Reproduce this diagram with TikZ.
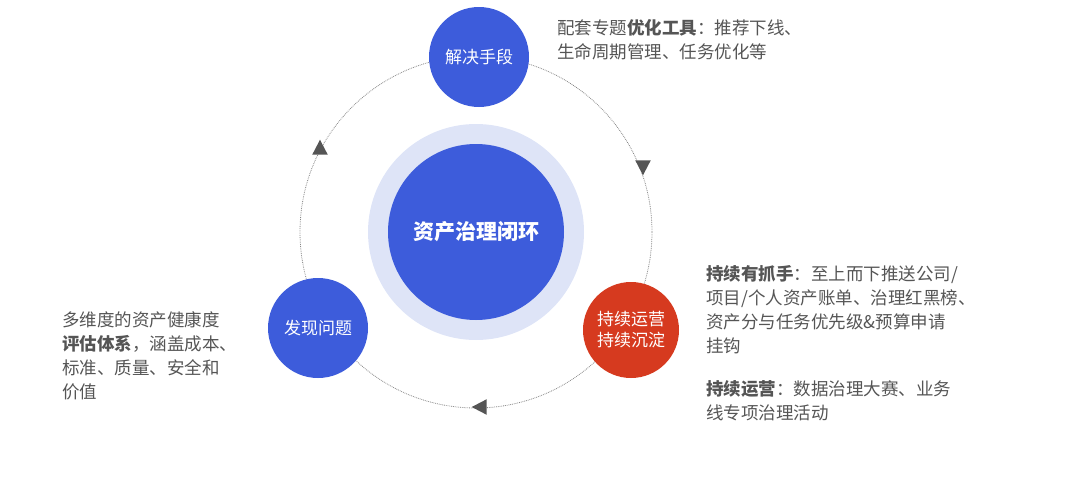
\documentclass[tikz,border=0pt]{standalone}
\usepackage{fontspec}
\setmainfont{Noto Sans CJK SC}
\usetikzlibrary{shapes.geometric,positioning}
\definecolor{stageblue}{HTML}{3D5CDB}
\definecolor{halo}{HTML}{DEE4F7}
\definecolor{stagered}{HTML}{D63A1F}
\definecolor{note}{HTML}{555555}
\tikzstyle{stage} = [circle, fill=stageblue, text=white, minimum size=100pt, inner sep=0pt, font=\fontsize{17}{21}\selectfont, align=center]
\tikzstyle{flowtip} = [isosceles triangle, fill=note, minimum height=15pt, minimum width=13pt, inner sep=0pt, isosceles triangle apex angle=55]
\tikzstyle{notes} = [anchor=north west, align=left, text=note, inner sep=0pt, font=\fontsize{17.5}{24}\selectfont]

\begin{document}
\begin{tikzpicture}[x=1pt,y=-1pt]
    \useasboundingbox (0,0) rectangle (1080,482);
    \coordinate (c) at (476,232);
    \draw[note!70, densely dotted, line width=0.8pt] (c) circle[radius=176];
    \node[circle, fill=halo, minimum size=216pt] (ring) at (c) {};
    \node[circle, fill=stageblue, text=white, minimum size=176pt, font=\fontsize{21}{24}\selectfont\bfseries] (core) at (c) {资产治理闭环};
    \node[stage] (solve) at (479,57) {解决手段};
    \node[stage] (find) at (318,328) {发现问题};
    \node[stage, fill=stagered, minimum size=96pt] (keep) at (631,330) {持续运营\\持续沉淀};
    \node[flowtip, shape border rotate=-68] (t1) at (643,165) {};
    \node[flowtip, shape border rotate=180] (t2) at (482,407) {};
    \node[flowtip, shape border rotate=62] (t3) at (320,150) {};
    \node[notes] (ntool) at (557,19) {配套专题\textbf{优化工具}：推荐下线、\\生命周期管理、任务优化等};
    \node[notes] (nhold) at (706,265) {\textbf{持续有抓手}：至上而下推送公司/\\项目/个人资产账单、治理红黑榜、\\资产分与任务优先级\&预算申请\\挂钩};
    \node[notes] (nrun) at (706,380) {\textbf{持续运营}：数据治理大赛、业务\\线专项治理活动};
    \node[notes] (nfind) at (62,311) {多维度的资产健康度\\\textbf{评估体系}，涵盖成本、\\标准、质量、安全和\\价值};
\end{tikzpicture}
\end{document}
